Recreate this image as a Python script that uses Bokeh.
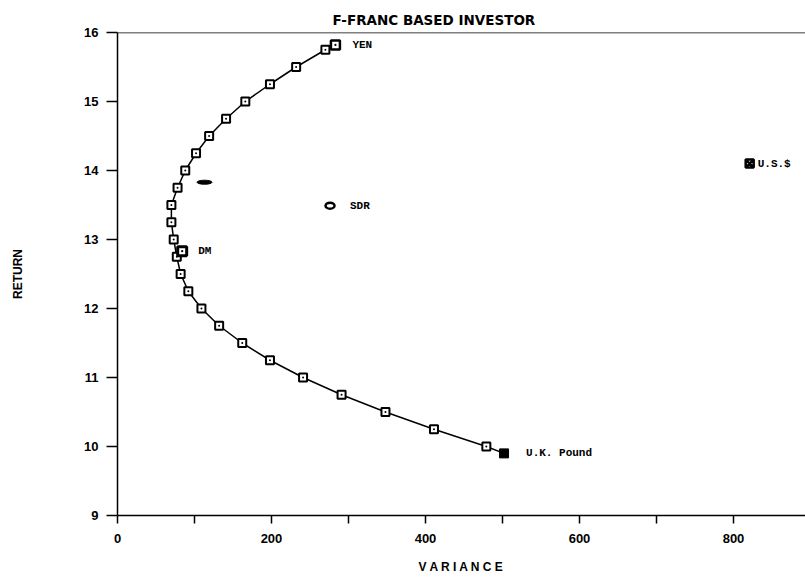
from bokeh.plotting import figure
from bokeh.models import Range1d, FixedTicker, Span
from bokeh.embed import file_html
from bokeh.resources import INLINE
from bokeh.core.properties import value

# Efficient frontier (variance, return)
frontier_var = [283, 270, 232, 198, 166, 141, 119, 102, 88, 78, 70, 70, 73,
                77, 82, 92, 109, 132, 162, 198, 241, 291, 348, 411, 479, 502]
frontier_ret = [15.82, 15.75, 15.5, 15.25, 15.0, 14.75, 14.5, 14.25, 14.0, 13.75,
                13.5, 13.25, 13.0, 12.75, 12.5, 12.25, 12.0, 11.75, 11.5, 11.25,
                11.0, 10.75, 10.5, 10.25, 10.0, 9.9]

# Individual currencies
currency_names = ["YEN", "DM", "SDR", "U.K. Pound", "U.S.$"]
currency_var = [283, 84, 276, 502, 821]
currency_ret = [15.82, 12.83, 13.49, 9.9, 14.1]

# stray mark near the frontier
blob_var = [113]
blob_ret = [13.83]

x_major = [0, 200, 400, 600, 800]
x_minor = [100, 300, 500, 700]
y_ticks = [9, 10, 11, 12, 13, 14, 15, 16]

p = figure(width=805, height=584, output_backend="svg", toolbar_location=None,
           x_range=Range1d(0, 893.5), y_range=Range1d(9, 16),
           min_border_left=117, min_border_right=0, min_border_top=32,
           min_border_bottom=69)
p.outline_line_color = None
p.xgrid.grid_line_color = None
p.ygrid.grid_line_color = None
p.background_fill_color = "white"
p.border_fill_color = "white"

p.title.text = "F-FRANC BASED INVESTOR"
p.title.align = "left"
p.title.offset = 215
p.title.text_font = "DejaVu Sans"
p.title.text_font_style = "bold"
p.title.text_font_size = "13.5px"
p.title.text_color = "black"

p.add_layout(Span(location=16, dimension="width", line_color="black", line_width=1.5))

# x axis
p.xaxis.ticker = FixedTicker(ticks=x_major, minor_ticks=x_minor)
p.xaxis.major_tick_out = 8
p.xaxis.major_tick_in = 0
p.xaxis.minor_tick_out = 8
p.xaxis.minor_tick_in = 0
p.xaxis.axis_line_width = 1.5
p.xaxis.major_label_standoff = 10
p.xaxis.axis_label = "V A R I A N C E"
p.xaxis.axis_label_standoff = 14

# y axis
p.yaxis.ticker = FixedTicker(ticks=y_ticks, minor_ticks=[])
p.yaxis.major_tick_out = 11
p.yaxis.major_tick_in = 0
p.yaxis.minor_tick_out = 0
p.yaxis.minor_tick_in = 0
p.yaxis.axis_line_width = 1.5
p.yaxis.major_label_standoff = 8
p.yaxis.axis_label = "RETURN"
p.yaxis.axis_label_standoff = 56

for ax in (p.xaxis[0], p.yaxis[0]):
    ax.axis_line_color = "black"
    ax.major_tick_line_color = "black"
    ax.minor_tick_line_color = "black"
    ax.major_tick_line_width = 1.5
    ax.minor_tick_line_width = 1.5
    ax.major_label_text_font = "Liberation Sans"
    ax.major_label_text_font_style = "bold"
    ax.major_label_text_font_size = "13px"
    ax.major_label_text_color = "black"
    ax.axis_label_text_font = "Liberation Sans"
    ax.axis_label_text_font_style = "bold"
    ax.axis_label_text_font_size = "12px"
    ax.axis_label_text_color = "black"

# frontier line and markers
p.line(frontier_var, frontier_ret, line_color="black", line_width=1.5)
p.scatter(frontier_var[1:-1], frontier_ret[1:-1], marker="square_dot", size=8,
          fill_color="white", line_color="black", line_width=2)

# currencies
p.scatter([currency_var[0]], [currency_ret[0]], marker="square_dot", size=9,
          fill_color="white", line_color="black", line_width=2.5)
p.scatter([currency_var[1]], [currency_ret[1]], marker="square_dot", size=9,
          fill_color="white", line_color="black", line_width=3)
p.ellipse(x=[currency_var[2]], y=[currency_ret[2]], width=9, height=6,
          width_units="screen", height_units="screen",
          fill_color="white", line_color="black", line_width=2.5)
p.scatter([currency_var[3]], [currency_ret[3]], marker="square", size=9,
          fill_color="black", line_color="black", line_width=1)
p.scatter([currency_var[4]], [currency_ret[4]], marker="square_x", size=8,
          fill_color="white", line_color="black", line_width=2.5)

p.ellipse(x=blob_var, y=blob_ret, width=15, height=4, width_units="screen",
          height_units="screen", fill_color="black", line_color="black")

offsets = [17, 16, 20, 22, 8]
for i in range(len(currency_names)):
    p.text(x=[currency_var[i]], y=[currency_ret[i]], text=[currency_names[i]],
           x_offset=offsets[i], text_baseline="middle", text_align="left",
           text_font=value("Liberation Mono"), text_font_size="11px",
           text_font_style="bold", text_color="black")

open("out.html", "w").write(file_html(p, INLINE))
